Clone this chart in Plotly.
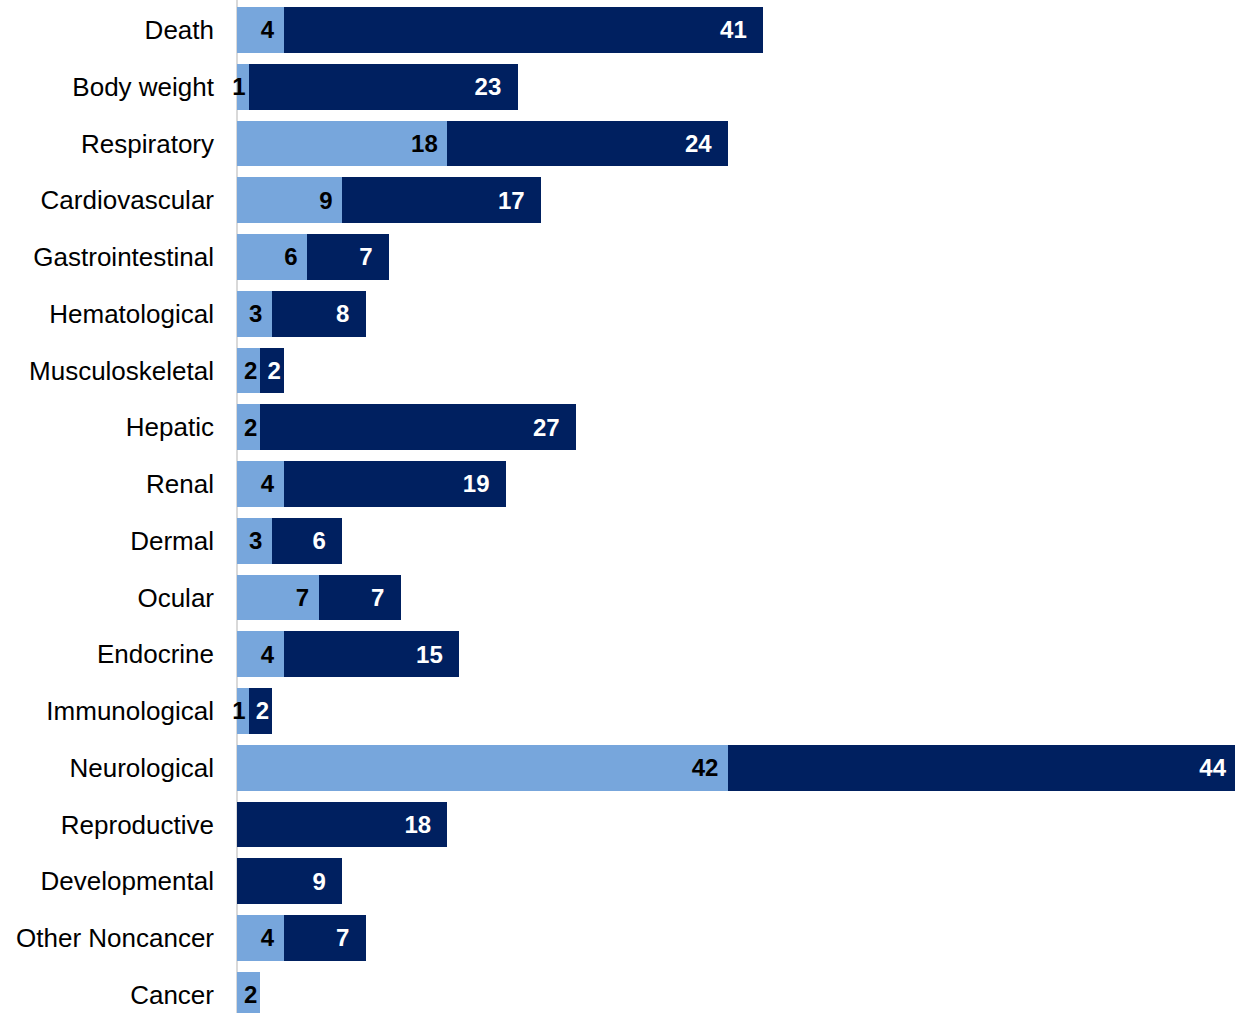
import plotly.graph_objects as go

# Health-effect categories (top to bottom) and study counts per series
categories = [
    "Death", "Body weight", "Respiratory", "Cardiovascular", "Gastrointestinal",
    "Hematological", "Musculoskeletal", "Hepatic", "Renal", "Dermal", "Ocular",
    "Endocrine", "Immunological", "Neurological", "Reproductive", "Developmental",
    "Other Noncancer", "Cancer",
]
series_a = [4, 1, 18, 9, 6, 3, 2, 2, 4, 3, 7, 4, 1, 42, 0, 0, 4, 2]
series_b = [41, 23, 24, 17, 7, 8, 2, 27, 19, 6, 7, 15, 2, 44, 18, 9, 7, 0]

LIGHT = "#77A6DC"
DARK = "#002060"
NBSP = "\u00a0"
FONT = "Liberation Sans, Arial, sans-serif"


def labels(values, pad):
    """Value labels; segments wider than two units get extra room before the bar end."""
    out = []
    for v in values:
        if not v:
            out.append("")
        elif v <= 2:
            out.append(str(v))
        else:
            out.append(str(v) + NBSP * pad)
    return out


fig = go.Figure()
fig.add_trace(go.Bar(
    y=categories, x=series_a, orientation="h",
    marker=dict(color=LIGHT, line=dict(width=0)),
    text=labels(series_a, 1), texttemplate="%{text}",
    textposition="inside", insidetextanchor="end", constraintext="none",
    insidetextfont=dict(family=FONT, size=24, color="#000000", weight="bold"),
    hoverinfo="skip", showlegend=False,
))
fig.add_trace(go.Bar(
    y=categories, x=series_b, orientation="h",
    marker=dict(color=DARK, line=dict(width=0)),
    text=labels(series_b, 2), texttemplate="%{text}",
    textposition="inside", insidetextanchor="end", constraintext="none",
    insidetextfont=dict(family=FONT, size=24, color="#FFFFFF", weight="bold"),
    hoverinfo="skip", showlegend=False,
))

# Category axis baseline at zero
fig.add_shape(
    type="line", xref="x", yref="paper", x0=0, x1=0, y0=0, y1=1,
    line=dict(color="#D9D9D9", width=2), layer="below",
)

fig.update_layout(
    barmode="stack",
    bargap=0.19,
    width=1235, height=1013,
    margin=dict(l=230, r=0, t=0, b=0),
    paper_bgcolor="white", plot_bgcolor="white",
    font=dict(family=FONT, color="#000000"),
)
fig.update_xaxes(
    range=[-0.6, 85.37], visible=False, showgrid=False, zeroline=False,
)
fig.update_yaxes(
    type="category", categoryorder="array", categoryarray=categories,
    range=[17.322, -0.5286],
    showgrid=False, zeroline=False, showline=False,
    ticks="", ticklabelstandoff=15,
    tickfont=dict(family=FONT, size=26, color="#000000"),
)

fig.write_html("out.html")
